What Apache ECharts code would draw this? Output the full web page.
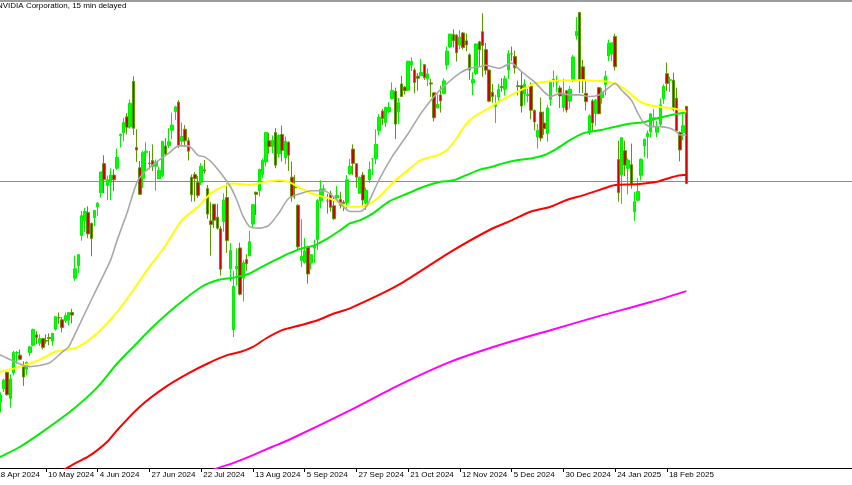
<!DOCTYPE html>
<html>
<head>
<meta charset="utf-8">
<script src="https://cdn.jsdelivr.net/npm/echarts@6/dist/echarts.min.js"></script>
<style>
html,body{margin:0;padding:0;background:#fff;overflow:hidden;width:852px;height:485px;position:relative;}
#chart{position:absolute;left:-8px;top:0;width:862px;height:485px;}
</style>
</head>
<body>
<div id="chart"></div>
<script>
// Daily bars, 18 Apr 2024 .. 27 Feb 2025 (index 0 .. 214)
const opens = [84.97,83.1,78.1,80.8,83.9,78.9,83.8,87.6,87.2,85.0, 84.5,87.7,89.1,91.1,89.5,90.4,90.0,90.6,89.9,92.2, 94.4,94.0,93.8,93.9,95.4,102.0,104.4,110.2,113.0,114.6, 112.5,113.6,115.7,118.4,124.0,119.8,120.4,121.8,123.1,129.4, 129.96,132.99,131.1,139.8,127.1,123.2,121.2,126.1,124.1,124.6, 123.5,121.1,121.7,127.4,127.5,130.4,134.0,135.8,128.3,130.6, 128.4,121.4,121.9,120.4,120.4,122.8,119.2,113.0,116.2,113.7, 111.5,112.9,117.5,103.8,92.1,103.8,107.8,102.0,105.6,106.3, 112.4,118.5,118.8,121.9,124.3,128.4,127.3,130.0,125.9,129.6, 125.1,128.1,121.4,119.5,116.0,105.4,104.99,108.0,104.9,107.8, 109.4,116.85,119.1,116.8,118.2,115.9,117.4,117.1,116.6,116.5, 122.0,126.8,123.97,118.3,121.8,116.4,120.9,124.9,124.99,130.3, 134.1,131.9,134.0,136.5,137.9,133.98,139.3,138.7,138.1,142.9, 142.0,140.8,140.9,143.0,140.3,139.5,137.6,134.7,137.2,137.45, 142.96,146.4,148.8,148.7,146.8,149.1,147.6,144.9,139.5,141.3, 147.4,149.35,145.9,141.99,137.7,135.0,136.8,138.8,138.3,142.0, 145.1,144.6,138.97,139.0,137.4,137.1,138.9,134.2,129.1,133.9, 131.8,129.8,136.3,140.0,139.7,138.55,134.8,138.0,136.0,140.0, 148.6,153.03,142.6,137.5,129.99,136.05,133.65,138.6,136.7,139.2, 144.7,145.05,148.4,124.8,121.8,126.5,123.1,123.8,114.75,116.96, 121.76,127.4,129.2,130.09,132.58,130.02,131.56,136.48,141.27,140.03, 140.04,136.56,129.98,129.99,135.0];
const highs = [86.12,84.3,80.07,82.7,84.0,83.5,88.0,88.0,88.3,86.0, 86.0,89.0,92.3,91.8,91.2,90.4,91.2,91.4,91.4,94.7, 95.4,94.5,95.4,95.3,96.1,106.3,106.5,114.9,115.5,115.8, 112.7,115.0,116.6,122.4,125.6,121.7,123.1,122.9,126.9,129.8, 132.8,133.7,136.3,140.76,130.6,124.5,126.5,128.1,126.4,127.7, 124.8,123.4,128.3,128.9,130.8,133.8,135.1,136.2,131.9,131.4, 129.0,121.9,122.4,121.6,124.1,124.7,119.9,116.6,116.2,116.3, 111.99,118.3,120.2,108.7,103.4,107.7,108.8,105.5,106.6,111.1, 116.2,118.6,123.0,125.0,130.0,129.9,129.4,130.8,129.6,131.3, 129.2,128.3,124.4,121.8,116.2,113.3,109.7,108.2,106.6,109.4, 117.2,120.8,119.96,118.2,118.8,117.7,119.7,118.6,116.99,121.8, 124.9,127.7,124.0,121.5,122.4,119.4,124.4,125.0,130.6,133.5, 134.5,135.0,135.8,139.6,138.6,136.6,140.9,138.9,143.7,144.4, 142.4,141.4,144.1,143.1,142.3,140.3,137.6,137.3,138.96,140.4, 146.5,148.9,149.8,148.85,149.65,149.3,149.0,145.2,141.55,147.1, 147.6,152.89,147.2,142.05,139.3,137.2,139.35,140.45,140.9,145.8, 146.5,145.7,139.95,141.8,140.2,138.4,139.6,134.4,131.6,136.7, 134.0,135.3,139.8,141.9,140.85,139.0,140.3,138.1,138.9,144.9, 152.16,153.13,143.95,139.9,133.5,136.4,136.45,138.75,138.5,141.8, 147.8,147.2,148.97,128.4,129.0,128.4,125.0,127.85,118.57,121.2, 125.0,128.77,130.37,133.6,134.48,132.24,136.5,139.25,143.44,140.67, 141.46,138.59,130.2,133.73,135.01];
const lows = [82.37,75.61,76.2,80.1,79.4,77.1,83.3,85.6,86.2,81.3, 83.3,87.0,88.9,89.3,89.0,88.3,89.4,89.1,89.0,91.9, 93.2,91.6,93.4,93.0,93.3,101.5,103.0,109.2,110.9,109.7, 106.2,112.0,114.0,117.5,118.3,117.0,117.0,118.7,122.8,127.1, 128.3,129.6,130.7,129.5,124.3,118.0,119.3,122.6,122.9,122.6, 118.8,121.0,121.4,125.7,127.0,128.7,132.4,127.0,127.2,127.2, 124.6,116.7,116.7,117.4,119.9,122.1,113.4,106.3,111.6,111.3, 102.5,110.9,106.8,101.4,90.69,100.6,98.7,97.5,103.4,106.3, 111.6,114.1,117.7,121.2,123.4,125.9,126.0,123.1,125.2,124.4, 123.9,122.6,116.7,117.2,107.3,104.1,104.8,100.95,103.7,104.95, 107.4,115.4,117.6,114.4,114.8,113.2,117.2,115.4,114.9,115.4, 121.9,121.8,119.3,118.2,115.8,115.1,120.3,121.8,123.9,129.4, 131.4,131.0,133.7,136.3,128.7,131.6,136.9,137.3,138.0,141.8, 137.5,138.0,140.8,140.1,138.9,136.8,132.1,134.6,133.8,137.3, 141.96,146.2,146.3,143.6,146.0,145.9,145.6,140.1,137.15,140.99, 142.7,140.7,141.1,135.8,135.7,131.8,136.05,137.8,137.1,140.3, 143.7,141.3,137.1,133.8,135.2,135.8,132.5,130.4,126.9,128.3, 129.55,128.2,135.1,138.65,137.7,134.7,134.0,133.8,134.6,139.7, 147.8,137.56,137.56,134.2,129.5,130.05,131.3,133.5,135.5,137.1, 143.7,143.7,141.9,116.7,116.25,121.6,118.1,119.2,113.01,116.7, 120.76,125.2,125.0,129.04,131.02,129.08,131.17,135.5,137.93,137.78, 134.03,130.08,124.44,128.49,120.1];
const closes = [84.61,76.2,79.5,82.4,79.6,82.6,87.7,87.7,86.4,83.0, 85.8,88.8,92.1,90.6,90.4,88.7,89.9,90.4,91.4,94.6, 94.4,92.5,94.8,95.4,94.9,103.8,106.5,114.0,114.8,110.5, 109.6,115.0,116.4,122.4,120.9,120.9,121.8,120.9,125.2,129.6, 131.9,130.98,135.6,130.8,126.6,118.1,126.1,126.4,124.0,123.5, 124.3,122.7,128.3,125.8,128.2,131.4,134.9,127.4,129.2,128.4, 126.4,118.0,121.1,117.9,123.5,122.6,114.3,112.3,113.1,111.6, 103.7,117.0,109.2,107.3,100.45,104.25,98.9,104.97,104.75,109.0, 116.1,118.1,122.9,124.6,130.0,127.25,128.5,123.7,129.4,126.5, 128.3,125.6,117.6,119.4,108.0,106.2,107.2,102.8,106.5,108.1, 116.9,119.1,119.1,116.8,115.6,113.4,117.9,116.0,116.3,120.9, 123.5,124.04,121.4,121.4,117.0,118.85,122.85,124.9,127.7,132.9, 132.65,134.8,134.8,138.07,131.6,135.7,136.9,138.0,143.7,143.6, 139.6,140.4,141.5,140.5,141.25,139.3,132.8,135.4,136.05,139.9, 145.6,148.9,147.6,145.3,148.3,146.3,146.8,141.98,140.15,147.0, 145.9,146.7,141.95,136.0,136.9,135.3,138.25,138.6,140.3,145.1, 145.06,142.4,138.8,135.07,139.3,137.3,134.25,132.0,130.39,128.9, 130.7,134.7,139.7,140.2,139.9,137.0,137.5,134.3,138.3,144.5, 149.4,140.1,140.1,135.9,133.2,131.8,136.2,133.6,137.7,140.8, 147.1,147.2,142.6,118.4,128.99,123.7,124.65,120.07,116.66,118.65, 124.83,128.68,129.84,133.57,132.8,131.14,135.29,138.85,139.4,140.11, 134.43,130.28,126.63,131.28,120.15];

// Moving averages: [bar index, price]
const maGray = [[0,87.7],[2,87.2],[11,85.0],[17,85.7],[21,87.8],[23,88.8],[26,92.6],[30,97.8],[33,101.6],[36,105.5],[38,109.3],[41,114.4],[44,120.2],[46,122.1],[51,124.7],[54,126.0],[57,127.4],[60,127.4],[63,125.6],[65,125.3],[67,124.4],[70,122.2],[73,119.6],[75,117.0],[77,113.8],[79,111.9],[82,111.6],[85,112.2],[88,114.5],[91,117.3],[95,118.3],[98,118.8],[102,118.8],[105,117.6],[108,115.7],[110,114.8],[113,114.8],[115,115.7],[119,120.9],[123,125.3],[128,129.8],[132,133.7],[136,136.9],[140,139.4],[144,141.4],[147,142.3],[150,142.6],[152,142.9],[154,142.6],[156,142.3],[160,143.3],[161,142.9],[163,141.7],[167,139.7],[170,137.8],[172,136.9],[175,137.5],[178,137.2],[181,137.2],[184,136.9],[187,137.2],[189,138.1],[192,139.4],[194,138.1],[197,136.2],[199,133.7],[201,131.7],[203,131.1],[206,131.1],[209,130.8],[211,130.1],[212,129.5],[214,129.5]];
const maYellow = [[0,83.7],[2,84.0],[8,85.0],[14,86.3],[19,87.9],[22,88.2],[26,88.8],[32,91.5],[38,95.5],[43,99.7],[48,104.2],[52,107.4],[54,109.3],[58,113.1],[63,115.7],[67,118.3],[70,119.4],[74,120.2],[79,119.9],[84,120.5],[88,120.8],[91,120.5],[95,119.2],[98,118.3],[102,117.6],[105,117.0],[108,116.0],[111,115.7],[115,116.0],[119,117.6],[123,120.2],[128,122.8],[132,124.7],[137,125.6],[140,126.6],[143,128.9],[146,131.7],[149,133.3],[152,134.3],[156,135.9],[160,137.2],[164,138.5],[167,139.4],[170,139.7],[174,139.9],[178,140.0],[182,140.0],[186,139.9],[190,139.7],[192,139.4],[196,137.8],[199,136.2],[202,135.3],[206,134.9],[210,134.6],[214,134.0]];
const maGreen = [[0,67.1],[2,67.7],[8,69.6],[15,72.5],[24,76.6],[32,81.1],[38,85.6],[43,88.8],[49,92.6],[56,96.5],[64,100.3],[69,101.6],[74,102.1],[79,102.9],[82,103.9],[87,105.5],[91,106.7],[95,107.7],[99,108.3],[103,109.6],[107,111.2],[110,112.5],[113,113.1],[117,114.4],[122,116.7],[128,118.3],[133,119.6],[138,120.5],[142,120.8],[146,121.8],[150,122.8],[154,123.4],[157,124.0],[162,124.7],[166,125.0],[170,125.6],[174,126.9],[178,128.5],[182,129.8],[184,130.1],[188,130.5],[192,131.1],[197,131.7],[201,132.0],[205,132.7],[209,133.3],[214,133.8]];
const maRed = [[21,65.0],[25,66.4],[29,67.7],[32,69.0],[35,70.6],[38,72.8],[45,77.3],[53,81.1],[60,83.7],[66,85.6],[72,87.2],[76,87.8],[80,88.8],[84,90.4],[89,92.0],[95,93.0],[100,93.9],[105,95.2],[110,96.2],[125,100.7],[141,107.0],[153,111.2],[160,113.1],[166,114.8],[172,115.7],[177,117.0],[182,117.9],[187,118.9],[192,119.9],[197,120.0],[201,120.2],[205,120.5],[209,121.3],[213,121.8],[214,121.8]];
const maMagenta = [[67,65.0],[69,65.5],[74,66.5],[80,68.0],[86,69.6],[91,70.9],[110,76.6],[125,81.4],[141,85.9],[156,89.1],[172,92.0],[187,94.7],[203,97.4],[214,99.5]];

const lastPrice = 120.66;
const tickLabels = ['18 Apr 2024','10 May 2024','4 Jun 2024','27 Jun 2024','22 Jul 2024','13 Aug 2024','5 Sep 2024','27 Sep 2024','21 Oct 2024','12 Nov 2024','5 Dec 2024','30 Dec 2024','24 Jan 2025','18 Feb 2025'];
const labelStep = 16;
const slotCount = 266;
const title = 'NVIDIA Corporation, 15 min delayed';

const categories = [];
for (let i = 0; i < slotCount; i++) categories.push(String(i));
const candles = opens.map((o, i) => [o, closes[i], lows[i], highs[i]]);

const isTick = (i) => i % labelStep === 0 && (i / labelStep) < tickLabels.length;

const chart = echarts.init(document.getElementById('chart'), null, {renderer: 'canvas'});
const maSeries = (data, color, width) => ({
  type: 'line', data: data, symbol: 'none', smooth: 0.25, z: 5, silent: true,
  lineStyle: {color: color, width: width}
});
chart.setOption({
  animation: false,
  backgroundColor: '#ffffff',
  title: {text: title, left: 5, top: 2, padding: 0,
    textStyle: {fontSize: 8, fontWeight: 'normal', color: '#000', fontFamily: 'Liberation Sans'}},
  graphic: [{type: 'rect', left: 8, top: 0, shape: {width: 852, height: 2}, style: {fill: '#9c9c9c'}, z: 100}],
  grid: {left: 0.63, right: 1.13, top: 3, bottom: 17, containLabel: false},
  xAxis: {
    type: 'category', data: categories, boundaryGap: true,
    axisLine: {show: true, lineStyle: {color: '#000', width: 1}},
    axisTick: {show: true, alignWithLabel: true, length: 4, interval: (i) => isTick(i), lineStyle: {color: '#000'}},
    axisLabel: {show: true, interval: (i) => isTick(i), align: 'left', margin: 3, padding: [0,0,0,2],
      fontSize: 8, color: '#000', fontFamily: 'Liberation Sans',
      formatter: (v, i) => tickLabels[Math.round(i / labelStep)] || ''},
    splitLine: {show: false}
  },
  yAxis: {type: 'value', min: 65.52, max: 154.86, show: false, splitLine: {show: false}},
  series: [
    {type: 'candlestick', data: candles, barWidth: 3, z: 3, silent: true,
      itemStyle: {color: '#00ff00', color0: '#d00000', borderColor: '#00ee00', borderColor0: '#5a9a00', borderWidth: 1},
      markLine: {symbol: 'none', silent: true, label: {show: false}, z: 1,
        lineStyle: {color: '#8c8c8c', width: 1, type: 'solid'}, data: [{yAxis: lastPrice}]}},
    maSeries(maMagenta, '#ff00ff', 2),
    maSeries(maRed, '#ff0000', 2),
    maSeries(maGreen, '#00ee00', 2),
    maSeries(maYellow, '#ffff00', 2),
    maSeries(maGray, '#a8a8a8', 1.6)
  ]
});
</script>
</body>
</html>
